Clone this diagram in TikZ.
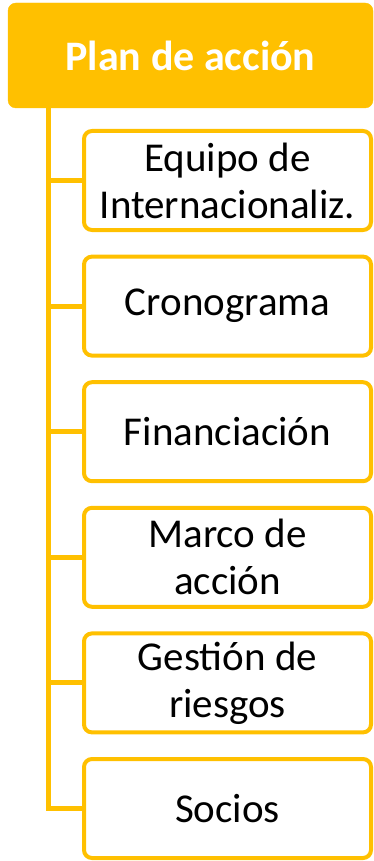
\documentclass[tikz,border=0pt]{standalone}
\usepackage{fontspec}
\setmainfont{Carlito}
\definecolor{gold}{HTML}{FFC000}
\begin{document}
\begin{tikzpicture}[x=1pt,y=1pt,
  titlebox/.style={fill=gold,draw=gold,rounded corners=8pt,minimum width=365pt,minimum height=105pt,inner sep=0pt,
    font=\fontsize{42}{48}\selectfont\bfseries,text=white},
  itembox/.style={draw=gold,fill=white,line width=4pt,rounded corners=8pt,minimum width=287pt,minimum height=99pt,
    inner sep=0pt,align=center,font=\fontsize{41}{47}\selectfont,text=black},
  link/.style={draw=gold,line width=5pt}]
\useasboundingbox (0,0) rectangle (374,-861);
\node[titlebox] (top) at (190.5,-55.5) {Plan de acción};
\coordinate (spine) at (48,0);
\node[itembox] (c1) at (227.5,-180.5) {Equipo de\\Internacionaliz.};
\node[itembox] (c2) at (227.5,-306.1) {Cronograma};
\node[itembox] (c3) at (227.5,-431.7) {Financiación};
\node[itembox] (c4) at (227.5,-557.3) {Marco de\\acción};
\node[itembox] (c5) at (227.5,-682.9) {Gestión de\\riesgos};
\node[itembox] (c6) at (227.5,-808.5) {Socios};
\draw[link] (top.south -| spine) |- (c6.west);
\foreach \n in {c1,c2,c3,c4,c5}{\draw[link] (\n.west -| spine) -- (\n.west);}
\end{tikzpicture}
\end{document}
